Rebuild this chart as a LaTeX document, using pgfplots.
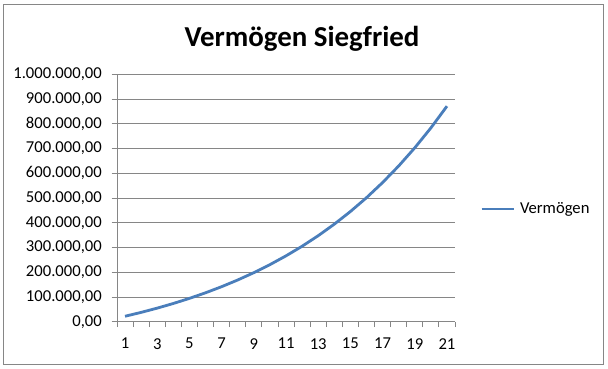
\documentclass[border=0pt]{standalone}
\usepackage{fontspec}
\setmainfont{Carlito}
\usepackage{pgfplots}
\pgfplotsset{compat=1.18}
\definecolor{excelblue}{HTML}{4A7EBB}
\definecolor{gridgray}{HTML}{868686}
\begin{document}
\begin{tikzpicture}[x=1bp,y=1bp]
\path[fill=white] (0,0) rectangle (608,368);
\draw[gridgray, line width=0.9bp] (3.8,4) rectangle (603.3,363.7);
\node[anchor=base, font=\fontsize{29}{34}\selectfont\bfseries, inner sep=0pt] at (302,322) {Vermögen Siegfried};
\begin{axis}[
  at={(117bp,46.3bp)}, anchor=south west,
  scale only axis, width=338bp, height=247.4bp,
  xmin=0.5, xmax=21.5, ymin=0, ymax=1000000,
  axis x line*=bottom, axis y line*=left,
  axis line style={gridgray, line width=0.9bp, -},
  xtick={0.5,1.5,2.5,3.5,4.5,5.5,6.5,7.5,8.5,9.5,10.5,11.5,12.5,13.5,14.5,15.5,16.5,17.5,18.5,19.5,20.5,21.5},
  xticklabels={},
  extra x ticks={1,3,5,7,9,11,13,15,17,19,21},
  extra x tick labels={1,3,5,7,9,11,13,15,17,19,21},
  extra x tick style={tick style={draw=none}},
  ytick={0,100000,200000,300000,400000,500000,600000,700000,800000,900000,1000000},
  yticklabels={{0,00},{100.000,00},{200.000,00},{300.000,00},{400.000,00},{500.000,00},{600.000,00},{700.000,00},{800.000,00},{900.000,00},{1.000.000,00}},
  scaled y ticks=false,
  ymajorgrids, grid style={gridgray, line width=0.9bp},
  tick align=outside, major tick length=5.3bp,
  tick style={gridgray, line width=0.9bp},
  tick label style={font=\fontsize{16.7}{19}\selectfont, text=black},
  yticklabel style={inner sep=0pt, xshift=-9.7bp},
  xticklabel style={inner sep=0pt, yshift=-11bp},
  legend style={at={(1,0.5)}, anchor=west, xshift=25bp, yshift=-11bp, draw=none, fill=none,
    inner sep=0pt, font=\fontsize{16.7}{19}\selectfont, nodes={inner sep=0pt},
    /tikz/every odd column/.append style={column sep=5bp}},
  legend image code/.code={\draw[#1] (0bp,0bp) -- (32bp,0bp);},
  clip=false,
]
\addplot[excelblue, line width=2.8bp, line join=round] coordinates {
(1,22000) (2,37690) (3,54871) (4,73684) (5,94284) (6,116840) (7,141540)
(8,168586) (9,198202) (10,230631) (11,266141) (12,305024) (13,347602)
(14,394224) (15,445276) (16,501177) (17,562390) (18,629415) (19,702810)
(20,783176) (21,871178)
};
\addlegendentry{Vermögen}
\end{axis}
\end{tikzpicture}
\end{document}
